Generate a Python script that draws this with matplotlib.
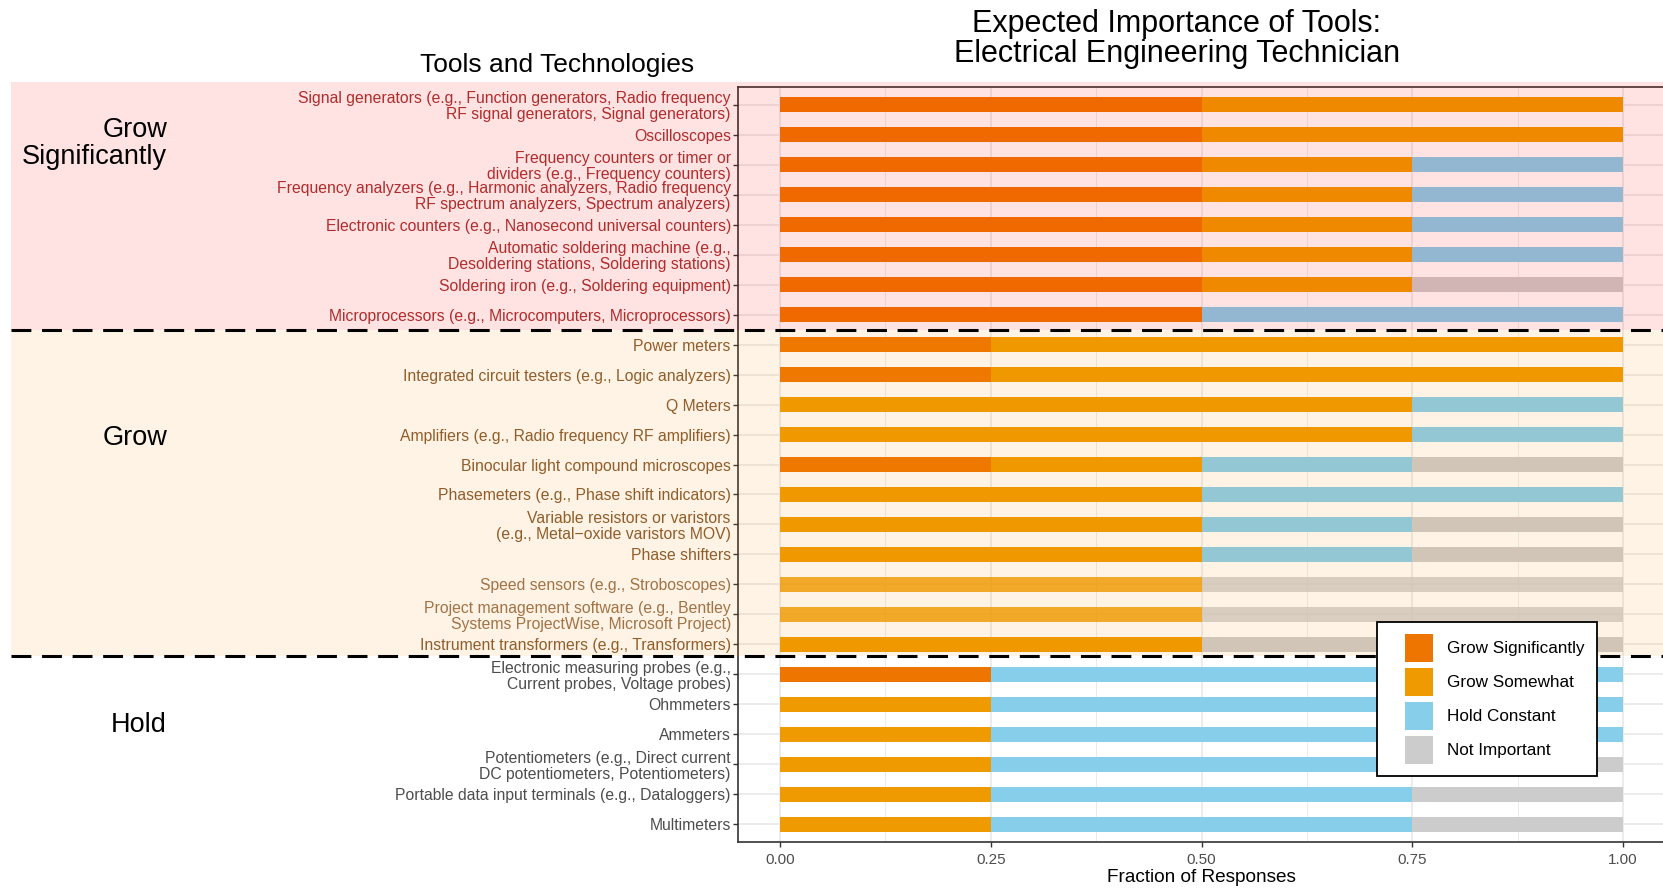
import matplotlib
matplotlib.use('Agg')
import matplotlib.pyplot as plt
from matplotlib.patches import Rectangle, Patch
from matplotlib.lines import Line2D
from matplotlib.legend_handler import HandlerPatch
import numpy as np

plt.rcParams['font.family'] = ['Liberation Sans', 'DejaVu Sans']

# ---------------- data ----------------
tools = [
    'Signal generators (e.g., Function generators, Radio frequency\nRF signal generators, Signal generators)',
    'Oscilloscopes',
    'Frequency counters or timer or\ndividers (e.g., Frequency counters)',
    'Frequency analyzers (e.g., Harmonic analyzers, Radio frequency\nRF spectrum analyzers, Spectrum analyzers)',
    'Electronic counters (e.g., Nanosecond universal counters)',
    'Automatic soldering machine (e.g.,\nDesoldering stations, Soldering stations)',
    'Soldering iron (e.g., Soldering equipment)',
    'Microprocessors (e.g., Microcomputers, Microprocessors)',
    'Power meters',
    'Integrated circuit testers (e.g., Logic analyzers)',
    'Q Meters',
    'Amplifiers (e.g., Radio frequency RF amplifiers)',
    'Binocular light compound microscopes',
    'Phasemeters (e.g., Phase shift indicators)',
    'Variable resistors or varistors\n(e.g., Metal\u2212oxide varistors MOV)',
    'Phase shifters',
    'Speed sensors (e.g., Stroboscopes)',
    'Project management software (e.g., Bentley\nSystems ProjectWise, Microsoft Project)',
    'Instrument transformers (e.g., Transformers)',
    'Electronic measuring probes (e.g.,\nCurrent probes, Voltage probes)',
    'Ohmmeters',
    'Ammeters',
    'Potentiometers (e.g., Direct current\nDC potentiometers, Potentiometers)',
    'Portable data input terminals (e.g., Dataloggers)',
    'Multimeters',
]
groups = ['Grow Significantly'] * 8 + ['Grow'] * 11 + ['Hold'] * 6
group_titles = {'Grow Significantly': 'Grow\nSignificantly', 'Grow': 'Grow', 'Hold': 'Hold'}

grow_significantly = [0.50, 0.50, 0.50, 0.50, 0.50, 0.50, 0.50, 0.50,
                      0.25, 0.25, 0.00, 0.00, 0.25, 0.00, 0.00, 0.00, 0.00, 0.00, 0.00,
                      0.25, 0.00, 0.00, 0.00, 0.00, 0.00]
grow_somewhat = [0.50, 0.50, 0.25, 0.25, 0.25, 0.25, 0.25, 0.00,
                 0.75, 0.75, 0.75, 0.75, 0.25, 0.50, 0.50, 0.50, 0.50, 0.50, 0.50,
                 0.00, 0.25, 0.25, 0.25, 0.25, 0.25]
hold_constant = [0.00, 0.00, 0.25, 0.25, 0.25, 0.25, 0.00, 0.50,
                 0.00, 0.00, 0.25, 0.25, 0.25, 0.50, 0.25, 0.25, 0.00, 0.00, 0.00,
                 0.75, 0.75, 0.75, 0.50, 0.50, 0.50]
not_important = [0.00, 0.00, 0.00, 0.00, 0.00, 0.00, 0.25, 0.00,
                 0.00, 0.00, 0.00, 0.00, 0.25, 0.00, 0.25, 0.25, 0.50, 0.50, 0.50,
                 0.00, 0.00, 0.00, 0.25, 0.25, 0.25]
responses = ['Grow Significantly', 'Grow Somewhat', 'Hold Constant', 'Not Important']
faded_tools = ['Speed sensors (e.g., Stroboscopes)',
               'Project management software (e.g., Bentley\nSystems ProjectWise, Microsoft Project)']

x_ticks = [0.0, 0.25, 0.50, 0.75, 1.0]
x_ticklabels = ['0.00', '0.25', '0.50', '0.75', '1.00']

# ---------------- styles ----------------
resp_colors = ['#EE7600', '#EE9A00', '#87CEEB', '#CCCCCC']
label_colors = {'Grow Significantly': '#A83232', 'Grow': '#85582F', 'Hold': '#4D4D4D'}
shade = {'Grow Significantly': ('#FF0000', 0.11), 'Grow': ('#FF8C00', 0.10)}

W, H = 1663, 889
fig = plt.figure(figsize=(W / 100, H / 100), dpi=100)


def fx(px):
    return px / W


def fy(py):
    return 1 - py / H


ax_left, ax_right, ax_top, ax_bot = 738, 1665, 87, 842
ax = fig.add_axes([fx(ax_left), fy(ax_bot), (ax_right - ax_left) / W, (ax_bot - ax_top) / H])

n = len(tools)
ypos = np.arange(n)
series = [grow_significantly, grow_somewhat, hold_constant, not_important]
left = np.zeros(n)
for vals, col in zip(series, resp_colors):
    vals = np.asarray(vals, dtype=float)
    bars = ax.barh(ypos, vals, left=left, height=0.5, color=col, linewidth=0, zorder=2)
    for b, t in zip(bars, tools):
        if t in faded_tools:
            b.set_alpha(0.82)
    left += vals

ax.set_xlim(-0.05, 1.05)
ax.set_ylim(n - 1 + 0.6, -0.6)
ax.set_yticks(ypos)
ax.set_yticklabels(tools, fontsize=11.35, linespacing=1.08)
for lbl, g, t in zip(ax.get_yticklabels(), groups, tools):
    lbl.set_color(label_colors[g])
    if t in faded_tools:
        lbl.set_alpha(0.85)
ax.set_xticks(x_ticks)
ax.set_xticklabels(x_ticklabels, fontsize=11, color='#4D4D4D')
ax.set_xticks([0.125, 0.375, 0.625, 0.875], minor=True)
ax.tick_params(axis='both', which='major', length=3.6, width=1.0, color='#333333', pad=1.6)
ax.tick_params(axis='x', which='major', pad=4.5)
ax.tick_params(axis='x', which='minor', length=0)
ax.grid(which='major', color='#EBEBEB', linewidth=1.3)
ax.grid(which='minor', axis='x', color='#EBEBEB', linewidth=0.7)
ax.set_axisbelow(True)
for sp in ax.spines.values():
    sp.set_color('#333333')
    sp.set_linewidth(1.2)

ax.set_xlabel('Fraction of Responses', fontsize=13.7, color='black')
ax.xaxis.label.set_va('center')
ax.xaxis.set_label_coords(0.5, (ax_bot - 878) / (ax_bot - ax_top))

# ---------------- group shading & separators ----------------
sep1, sep2 = 329.5, 655.5
regions = [('Grow Significantly', 82, sep1), ('Grow', sep1, sep2)]
for g, top, bot in regions:
    col, a = shade[g]
    fig.add_artist(Rectangle((fx(11), fy(bot)), 1 - fx(11), (bot - top) / H,
                             transform=fig.transFigure, facecolor=col, alpha=a,
                             linewidth=0, zorder=1))
for yy in (sep1, sep2):
    fig.add_artist(Line2D([fx(11), 1.0], [fy(yy), fy(yy)], transform=fig.transFigure,
                          color='black', linewidth=2.2, dashes=(6.5, 3.5), zorder=1.5))

# group labels
group_label_y = {'Grow Significantly': 143.5, 'Grow': 438, 'Hold': 725}
for g, yy in group_label_y.items():
    fig.text(fx(167), fy(yy), group_titles[g], ha='right', va='center',
             fontsize=19.5, linespacing=1.02, zorder=3)

# titles
fig.text(fx(1177), fy(39), 'Expected Importance of Tools:\nElectrical Engineering Technician',
         ha='center', va='center', fontsize=22, linespacing=0.98)
fig.text(fx(557), fy(65), 'Tools and Technologies', ha='center', va='center', fontsize=19)

# ---------------- legend ----------------
leg_fs = 12.3
fs_px = leg_fs * 100 / 72
key_px = 28
hh = (key_px / fs_px - 0.245) / 0.65


def square_right(legend, orig_handle, xdescent, ydescent, width, height, fontsize):
    return Rectangle((-xdescent + width - height, -ydescent), height, height)


handles = [Patch(facecolor=c, edgecolor='none', label=r) for r, c in zip(responses, resp_colors)]
leg = fig.legend(handles=handles, loc='upper left', bbox_to_anchor=(fx(1377), fy(622)),
                 fontsize=leg_fs, frameon=True, fancybox=False, framealpha=1,
                 edgecolor='black', facecolor='white', borderaxespad=0,
                 borderpad=12 / fs_px, handlelength=44 / fs_px, handleheight=hh,
                 labelspacing=6 / fs_px, handletextpad=14 / fs_px,
                 handler_map={Patch: HandlerPatch(patch_func=square_right)})
leg.get_frame().set_linewidth(1.3)
leg.set_zorder(6)

fig.savefig('out.png', dpi=100)
